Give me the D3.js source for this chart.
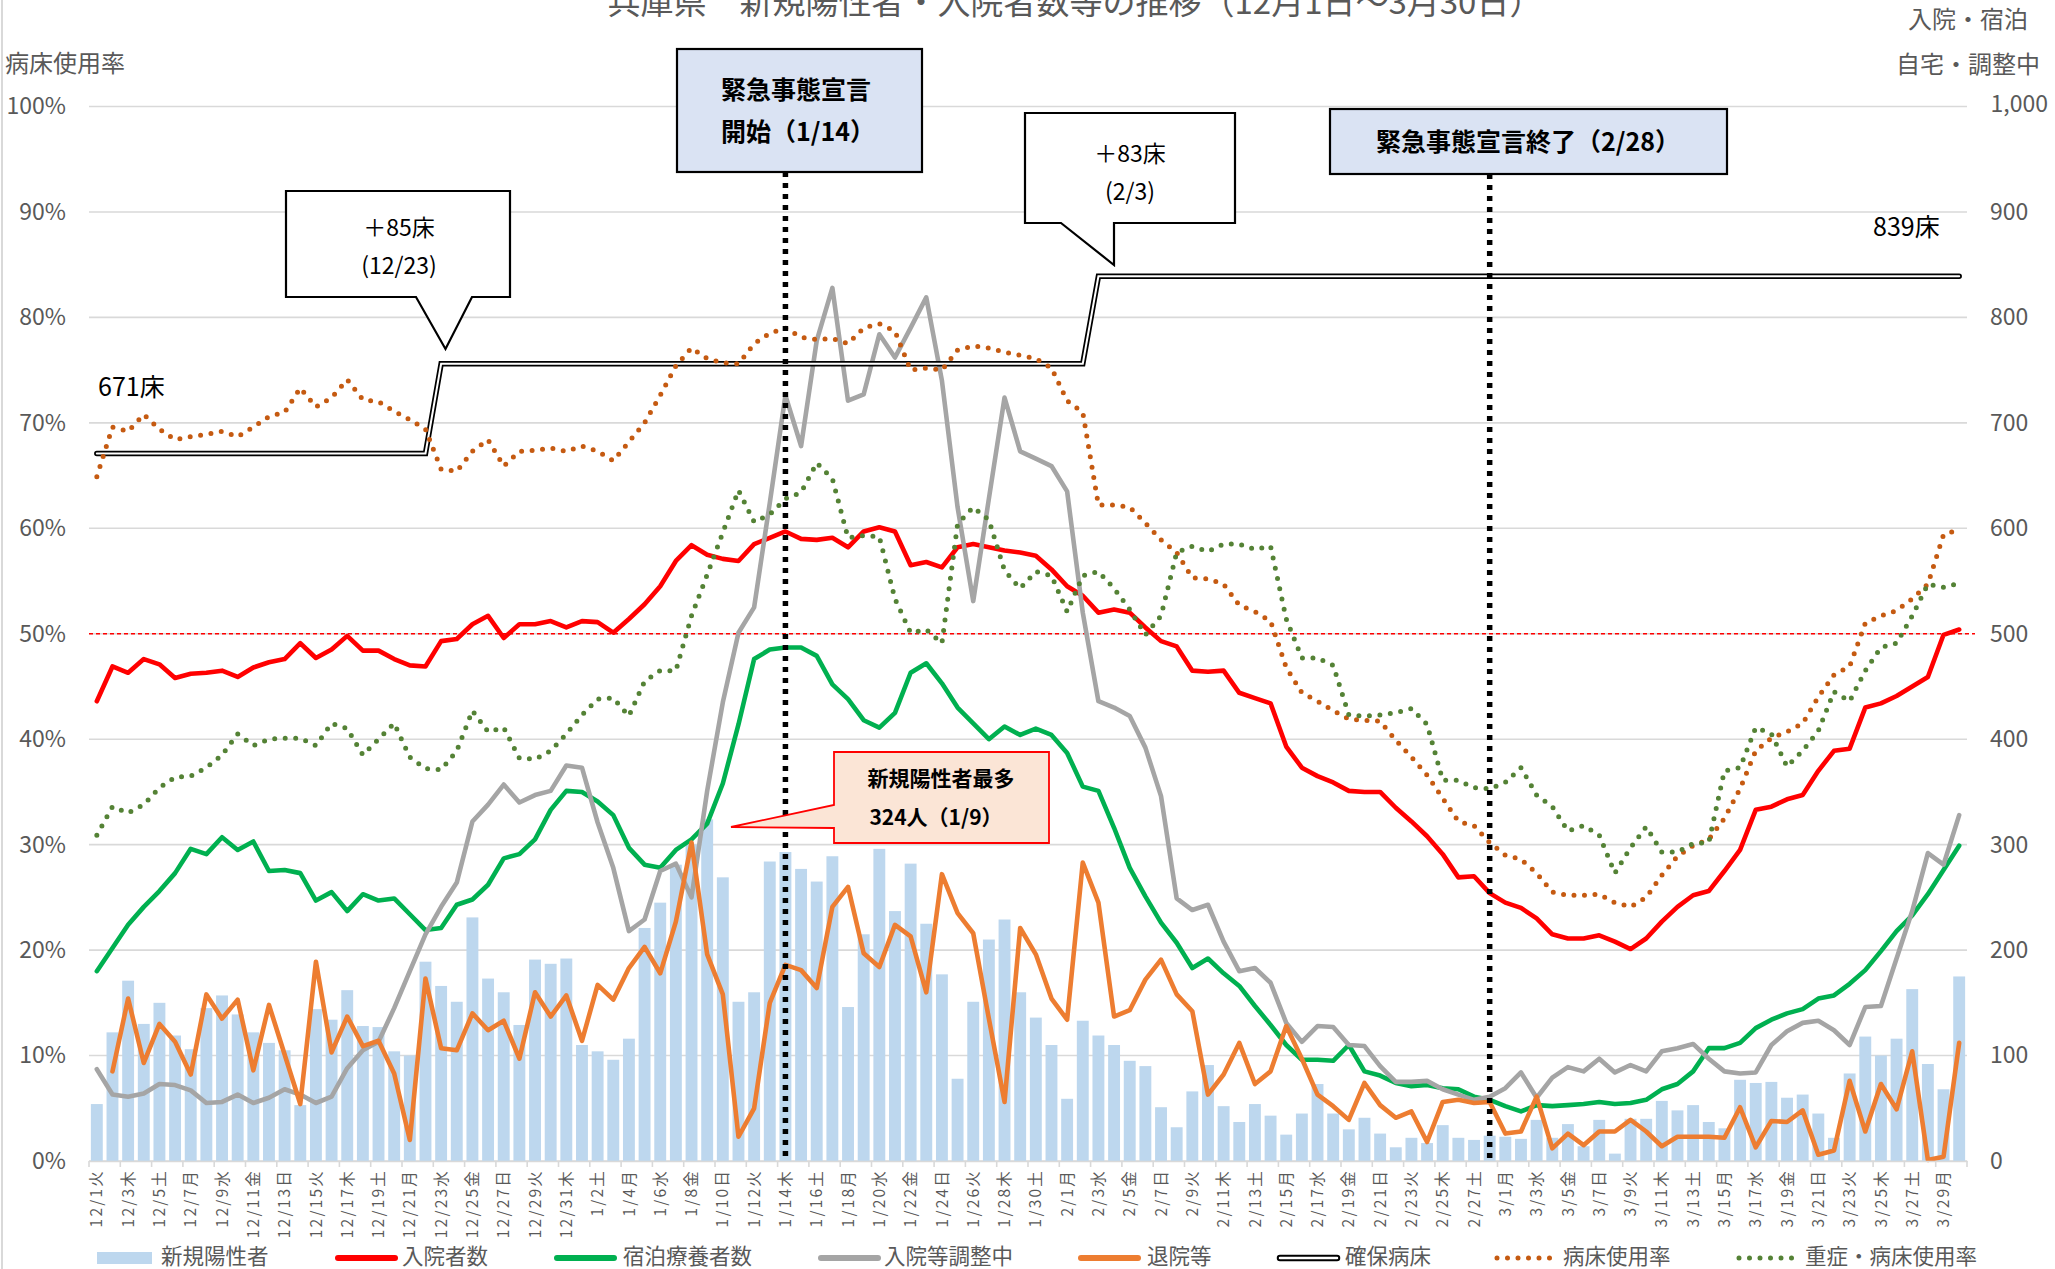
<!DOCTYPE html>
<html><head><meta charset="utf-8">
<script src="https://cdn.jsdelivr.net/npm/d3@7"></script>
<style>
body{margin:0;background:#fff;}
svg{display:block;font-family:'Noto Sans CJK JP','Noto Sans',sans-serif;}
</style>
</head><body>
<svg id="c" width="2055" height="1269"></svg>
<script>
const categories = ["12/1火","12/2水","12/3木","12/4金","12/5土","12/6日","12/7月","12/8火","12/9水","12/10木","12/11金","12/12土","12/13日","12/14月","12/15火","12/16水","12/17木","12/18金","12/19土","12/20日","12/21月","12/22火","12/23水","12/24木","12/25金","12/26土","12/27日","12/28月","12/29火","12/30水","12/31木",
"1/1金","1/2土","1/3日","1/4月","1/5火","1/6水","1/7木","1/8金","1/9土","1/10日","1/11月","1/12火","1/13水","1/14木","1/15金","1/16土","1/17日","1/18月","1/19火","1/20水","1/21木","1/22金","1/23土","1/24日","1/25月","1/26火","1/27水","1/28木","1/29金","1/30土","1/31日",
"2/1月","2/2火","2/3水","2/4木","2/5金","2/6土","2/7日","2/8月","2/9火","2/10水","2/11木","2/12金","2/13土","2/14日","2/15月","2/16火","2/17水","2/18木","2/19金","2/20土","2/21日","2/22月","2/23火","2/24水","2/25木","2/26金","2/27土","2/28日",
"3/1月","3/2火","3/3水","3/4木","3/5金","3/6土","3/7日","3/8月","3/9火","3/10水","3/11木","3/12金","3/13土","3/14日","3/15月","3/16火","3/17水","3/18木","3/19金","3/20土","3/21日","3/22月","3/23火","3/24水","3/25木","3/26金","3/27土","3/28日","3/29月","3/30火"];

// 新規陽性者
const newCases = [54,122,171,130,150,119,106,145,157,139,
 122,112,105,53,144,134,162,128,127,104,
 100,189,166,151,231,173,160,129,191,187,
 192,110,104,96,116,221,245,281,300,324,
 269,151,160,284,293,277,265,289,146,215,
 296,237,282,225,177,78,151,210,229,160,
 136,110,59,133,119,110,95,90,51,32,
 66,91,52,37,54,43,25,45,73,45,
 30,41,26,13,22,17,34,22,20,24,
 23,21,39,22,35,14,39,7,40,40,
 57,48,53,37,31,77,74,75,60,63,
 45,22,83,118,100,116,163,92,68,175];

// 入院者数
const hospitalized = [436,469,463,476,471,458,462,463,465,459,
 468,473,476,491,477,485,498,484,484,476,
 470,469,493,495,509,517,496,509,509,512,
 506,512,511,501,514,528,545,569,584,575,
 571,569,585,591,597,590,589,591,582,597,
 601,597,565,568,563,582,585,582,579,577,
 574,561,545,536,520,523,520,506,493,488,
 465,464,465,444,439,434,393,373,365,359,
 351,350,350,335,322,308,291,269,270,254,
 245,240,230,215,211,211,214,208,201,211,
 227,241,252,256,275,295,333,336,343,347,
 370,389,391,430,434,441,450,459,499,504];

// 宿泊療養者数
const hotel = [180,202,224,241,256,273,296,291,307,295,
 303,275,276,273,247,255,237,253,247,249,
 234,219,221,243,248,262,287,291,305,333,
 351,350,341,328,297,281,278,295,305,320,
 358,414,476,485,487,487,479,452,438,418,
 411,425,463,472,453,430,415,400,412,404,
 410,404,387,355,351,316,278,251,226,207,
 183,192,178,166,147,129,110,96,96,95,
 110,85,81,74,71,72,69,68,61,58,
 52,47,53,52,53,54,56,54,55,58,
 68,73,85,107,107,112,126,134,140,144,
 154,157,168,181,199,218,233,253,276,299];

// 入院等調整中
const adjusting = [87,63,61,64,73,72,67,55,56,63,
 55,60,68,63,55,61,88,105,113,145,
 180,215,241,264,322,338,357,340,347,351,
 375,373,321,278,218,229,275,282,250,351,
 435,501,525,624,726,678,778,828,721,727,
 784,762,790,819,740,620,531,628,724,673,
 666,659,635,520,436,430,422,392,346,249,
 238,243,208,180,183,169,131,113,128,127,
 110,109,90,75,75,76,68,63,58,61,
 69,84,60,79,89,85,97,84,91,85,
 104,107,111,97,85,83,84,110,123,131,
 133,124,110,146,147,192,237,292,281,328];

// 退院等
const discharged = [null,85,154,93,130,113,82,158,135,153,
 86,148,101,54,189,103,137,109,114,83,
 20,173,107,105,140,124,133,97,160,137,
 157,114,167,153,183,203,178,227,302,196,
 158,23,50,150,186,181,164,241,260,197,
 184,224,213,160,272,235,216,135,56,221,
 196,154,134,283,245,137,143,172,191,158,
 142,63,82,112,73,85,128,97,63,52,
 39,74,53,41,47,18,56,58,55,56,
 26,28,61,12,26,15,28,28,39,28,
 14,23,23,23,22,51,13,38,37,48,
 6,10,76,28,73,49,104,1,4,112];

// 確保病床
const securedBeds = [671,671,671,671,671,671,671,671,671,671,671,671,671,671,671,671,671,671,671,671,671,671,
 756,756,756,756,756,756,756,756,756,756,756,756,756,756,756,756,756,756,756,756,756,
 756,756,756,756,756,756,756,756,756,756,756,756,756,756,756,756,756,756,756,756,756,
 839,839,839,839,839,839,839,839,839,839,839,839,839,839,839,839,839,839,839,839,
 839,839,839,839,839,839,839,839,839,839,839,839,839,839,839,839,839,839,839,839,
 839,839,839,839,839,839,839,839,839,839,839,839,839,839,839,839];

// 病床使用率 (%)
const bedRate = [64.9,69.6,69.2,70.8,69.4,68.4,68.7,68.9,69.2,68.7,
 69.6,70.6,71.0,73.3,71.5,72.4,74.1,72.2,72.0,71.1,
 70.3,69.4,65.6,65.4,67.3,68.4,65.9,67.3,67.4,67.6,
 67.3,67.8,67.3,66.4,68.2,70.0,72.6,75.4,77.1,76.1,
 75.7,75.6,77.5,78.5,79.0,78.1,77.9,78.0,77.5,79.0,
 79.4,78.7,75.0,75.2,75.0,76.9,77.3,77.1,76.7,76.4,
 76.1,75.2,72.1,71.0,62.2,62.2,62.0,60.5,58.9,57.7,
 55.3,55.2,54.7,52.7,52.1,51.2,46.8,44.4,43.6,42.7,
 41.9,41.8,41.7,39.9,38.3,36.6,34.4,32.2,31.8,30.2,
 29.0,28.6,27.3,25.5,25.2,25.2,25.3,24.5,24.1,25.0,
 27.1,28.9,29.9,30.5,32.5,35.3,38.9,40.1,40.7,41.5,
 44.0,46.1,46.9,51.0,51.7,52.2,53.3,54.7,59.4,59.9];

// 重症・病床使用率 (%)
const severeRate = [30.9,33.6,33.0,33.8,35.4,36.4,36.5,37.3,38.5,40.5,
 39.4,40.0,40.1,40.1,39.4,41.5,41.0,38.5,40.0,41.5,
 38.3,37.2,37.1,38.9,42.7,40.7,41.1,38.2,38.1,38.9,
 40.5,42.3,43.8,43.9,42.2,45.5,46.5,46.5,51.7,55.6,
 59.6,63.6,60.6,61.3,62.8,63.4,66.2,64.7,59.1,59.3,
 59.2,53.3,50.1,50.4,49.1,60.4,62.0,60.8,56.0,54.3,
 55.9,55.5,52.1,55.5,55.9,54.3,52.3,49.9,51.7,57.7,
 58.3,57.8,58.5,58.5,58.0,58.3,51.4,47.7,47.7,47.0,
 42.3,42.2,42.3,42.5,42.9,41.4,36.1,36.1,35.4,35.3,
 35.9,37.3,34.7,33.6,31.3,31.8,30.9,27.3,29.7,31.7,
 29.3,29.3,30.1,30.2,37.0,37.3,41.1,40.5,37.4,38.9,
 40.8,44.5,43.6,46.5,48.7,49.1,51.7,54.7,54.4,54.8];

const leftTickValues = [0,10,20,30,40,50,60,70,80,90,100];
const leftTickLabels = ["0%","10%","20%","30%","40%","50%","60%","70%","80%","90%","100%"];
const rightTickValues = [0,100,200,300,400,500,600,700,800,900,1000];
const rightTickLabels = ["0","100","200","300","400","500","600","700","800","900","1,000"];

const legendItems = [
  {label:"新規陽性者", type:"bar", color:"#bdd7ee", x:97, tx:161},
  {label:"入院者数", type:"line", color:"#ff0000", x:335, tx:402},
  {label:"宿泊療養者数", type:"line", color:"#00b050", x:554, tx:623},
  {label:"入院等調整中", type:"line", color:"#a5a5a5", x:818, tx:884},
  {label:"退院等", type:"line", color:"#ed7d31", x:1078, tx:1147},
  {label:"確保病床", type:"double", color:"#000", x:1277, tx:1345},
  {label:"病床使用率", type:"dot", color:"#c55a11", x:1494, tx:1563},
  {label:"重症・病床使用率", type:"dot", color:"#548235", x:1736, tx:1805}
];

const svg = d3.select("#c");
const W = 2055, H = 1269;
const X0 = 89, X1 = 1967, Y0 = 1161, Y1 = 106.5;
const GRID = "#d9d9d9", TXT = "#595959";

const x = d3.scaleBand().domain(categories).range([X0, X1]).padding(0);
const bw = x.bandwidth();
const cx = i => x(categories[i]) + bw / 2;
const y = d3.scaleLinear().domain([0, 1000]).range([Y0, Y1]);
const yp = d3.scaleLinear().domain([0, 100]).range([Y0, Y1]);

svg.append("rect").attr("width", W).attr("height", H).attr("fill", "#fff");
svg.append("line").attr("x1", 2).attr("x2", 2).attr("y1", 0).attr("y2", H)
  .attr("stroke", GRID).attr("stroke-width", 2);

// title (top edge clipped by the frame, as in the reference)
svg.append("text").attr("x", 1075).attr("y", 14).attr("text-anchor", "middle")
  .attr("font-size", 33).attr("fill", TXT)
  .text("兵庫県　新規陽性者・入院者数等の推移（12月1日～3月30日）");

// gridlines
svg.append("g").selectAll("line").data(rightTickValues).join("line")
  .attr("x1", X0).attr("x2", X1).attr("y1", d => y(d)).attr("y2", d => y(d))
  .attr("stroke", GRID).attr("stroke-width", 1.6);

// x-axis tick marks every two categories
const tickIdx = categories.map((d, i) => i).filter(i => i % 2 === 0);
svg.append("g").selectAll("line").data(tickIdx.concat([categories.length])).join("line")
  .attr("x1", i => X0 + i * bw).attr("x2", i => X0 + i * bw)
  .attr("y1", Y0).attr("y2", Y0 + 6).attr("stroke", GRID).attr("stroke-width", 1.6);

// bars
svg.append("g").selectAll("rect").data(newCases).join("rect")
  .attr("x", (d, i) => x(categories[i]) + bw * 0.12)
  .attr("width", bw * 0.76)
  .attr("y", d => y(d))
  .attr("height", d => Y0 - y(d))
  .attr("fill", "#bdd7ee");

// 50% reference line
svg.append("line").attr("x1", X0).attr("x2", 1975).attr("y1", yp(50)).attr("y2", yp(50))
  .attr("stroke", "#ff0000").attr("stroke-width", 1.3).attr("stroke-dasharray", "4,3");

const line = d3.line().defined(d => d != null).x((d, i) => cx(i)).y(d => y(d));
const lineP = d3.line().defined(d => d != null).x((d, i) => cx(i)).y(d => yp(d));

function drawLine(data, color, gen) {
  svg.append("path").attr("d", (gen || line)(data)).attr("fill", "none")
    .attr("stroke", color).attr("stroke-width", 4.6)
    .attr("stroke-linejoin", "round").attr("stroke-linecap", "round");
}
drawLine(hospitalized, "#ff0000");
drawLine(hotel, "#00b050");
drawLine(adjusting, "#a5a5a5");
drawLine(discharged, "#ed7d31");

// secured beds double line
svg.append("path").attr("d", line(securedBeds)).attr("fill", "none")
  .attr("stroke", "#000").attr("stroke-width", 5.5).attr("stroke-linecap", "round").attr("stroke-linejoin", "miter");
svg.append("path").attr("d", line(securedBeds)).attr("fill", "none")
  .attr("stroke", "#fff").attr("stroke-width", 2).attr("stroke-linecap", "round");

function drawDots(data, color) {
  svg.append("path").attr("d", lineP(data)).attr("fill", "none")
    .attr("stroke", color).attr("stroke-width", 5)
    .attr("stroke-dasharray", "0 10.5").attr("stroke-linecap", "round");
}
drawDots(bedRate, "#c55a11");
drawDots(severeRate, "#548235");

// vertical dashed event lines
[[44, 172], [89, 174]].forEach(([i, top]) => {
  svg.append("line").attr("x1", cx(i)).attr("x2", cx(i)).attr("y1", top).attr("y2", Y0)
    .attr("stroke", "#000").attr("stroke-width", 5.5).attr("stroke-dasharray", "5,6");
});

// left axis labels
const la = svg.append("g").attr("transform", `translate(66,0)`)
  .call(d3.axisLeft(yp).tickValues(leftTickValues).tickFormat((d, i) => leftTickLabels[i]).tickSize(0).tickPadding(0));
la.select(".domain").remove();
la.selectAll("text").attr("font-size", 23).attr("fill", TXT).attr("font-family", "'Noto Sans CJK JP',sans-serif");

// right axis labels
const ra = svg.append("g").attr("transform", `translate(1990,0)`)
  .call(d3.axisRight(y).tickValues(rightTickValues).tickFormat((d, i) => rightTickLabels[i]).tickSize(0).tickPadding(0));
ra.select(".domain").remove();
ra.selectAll("text").attr("font-size", 23).attr("fill", TXT).attr("font-family", "'Noto Sans CJK JP',sans-serif");
ra.selectAll("text").filter(d => d === 1000).attr("text-anchor", "end").attr("x", 58).attr("dy", "0.2em");

// x axis labels
const xa = svg.append("g").attr("transform", `translate(0,${Y0})`)
  .call(d3.axisBottom(x).tickValues(categories.filter((d, i) => i % 2 === 0)).tickSize(0));
xa.select(".domain").attr("stroke", GRID).attr("stroke-width", 1.6);
xa.selectAll("text").attr("transform", "rotate(-90)").attr("x", -8).attr("y", 0).attr("dy", "0.36em")
  .attr("text-anchor", "end").attr("font-size", 15.5).attr("fill", TXT)
  .attr("letter-spacing", "2.2px").attr("font-family", "'Noto Sans CJK JP',sans-serif");

// axis titles
svg.append("text").attr("x", 5).attr("y", 72).attr("font-size", 24).attr("fill", TXT).text("病床使用率");
svg.append("text").attr("x", 2028).attr("y", 28).attr("text-anchor", "end").attr("font-size", 24).attr("fill", TXT).text("入院・宿泊");
svg.append("text").attr("x", 2040).attr("y", 73).attr("text-anchor", "end").attr("font-size", 24).attr("fill", TXT).text("自宅・調整中");

// bed labels
svg.append("text").attr("x", 98).attr("y", 396).attr("font-size", 25).attr("fill", "#000").text("671床");
svg.append("text").attr("x", 1873).attr("y", 236).attr("font-size", 25).attr("fill", "#000").text("839床");

// callouts
function poly(pts, fill, stroke, sw) {
  svg.append("path").attr("d", "M" + pts.map(p => p.join(",")).join("L") + "Z")
    .attr("fill", fill).attr("stroke", stroke).attr("stroke-width", sw).attr("stroke-linejoin", "miter");
}
function txt(t, xx, yy, size, weight, anchor, color) {
  svg.append("text").attr("x", xx).attr("y", yy).attr("font-size", size)
    .attr("font-weight", weight || 400).attr("text-anchor", anchor || "middle")
    .attr("dominant-baseline", "central").attr("fill", color || "#000").text(t);
}
poly([[286,191],[510,191],[510,297],[472,297],[445.5,349],[416,297],[286,297]], "#fff", "#000", 2.2);
txt("＋85床", 399, 226, 23);
txt("(12/23)", 399, 264, 23);

poly([[1025,113],[1235,113],[1235,223],[1114,223],[1114,265],[1061,223],[1025,223]], "#fff", "#000", 2.2);
txt("＋83床", 1130, 152, 23);
txt("(2/3)", 1130, 190, 23);

svg.append("rect").attr("x", 677).attr("y", 49).attr("width", 245).attr("height", 123)
  .attr("fill", "#dae3f3").attr("stroke", "#000").attr("stroke-width", 2.2);
txt("緊急事態宣言", 721, 88, 25, 700, "start");
txt("開始（1/14）", 721, 130, 25, 700, "start");

svg.append("rect").attr("x", 1330).attr("y", 109).attr("width", 397).attr("height", 65)
  .attr("fill", "#dae3f3").attr("stroke", "#000").attr("stroke-width", 2.2);
txt("緊急事態宣言終了（2/28）", 1528, 140, 25, 700, "middle");

poly([[834,752],[1049,752],[1049,843],[834,843],[834,828],[731,827],[834,805]], "#fbe5d6", "#ff0000", 1.8);
txt("新規陽性者最多", 941, 777, 21, 700);
txt("324人（1/9）", 936, 816, 21, 700);

// legend
const LY = 1258;
const lg = svg.append("g");
legendItems.forEach(it => {
  if (it.type === "bar") {
    lg.append("rect").attr("x", it.x).attr("y", LY - 6).attr("width", 55).attr("height", 12).attr("fill", it.color);
  } else if (it.type === "line") {
    lg.append("line").attr("x1", it.x + 3).attr("x2", it.x + 60).attr("y1", LY).attr("y2", LY)
      .attr("stroke", it.color).attr("stroke-width", 6).attr("stroke-linecap", "round");
  } else if (it.type === "double") {
    lg.append("line").attr("x1", it.x + 3).attr("x2", it.x + 60).attr("y1", LY).attr("y2", LY)
      .attr("stroke", "#000").attr("stroke-width", 6.5).attr("stroke-linecap", "round");
    lg.append("line").attr("x1", it.x + 3).attr("x2", it.x + 60).attr("y1", LY).attr("y2", LY)
      .attr("stroke", "#fff").attr("stroke-width", 2.5).attr("stroke-linecap", "round");
  } else {
    lg.append("line").attr("x1", it.x + 3).attr("x2", it.x + 60).attr("y1", LY).attr("y2", LY)
      .attr("stroke", it.color).attr("stroke-width", 5).attr("stroke-dasharray", "0 10.5").attr("stroke-linecap", "round");
  }
  lg.append("text").attr("x", it.tx).attr("y", LY - 4).attr("dominant-baseline", "central")
    .attr("font-size", 21.5).attr("fill", TXT).text(it.label);
});
</script>
</body></html>
